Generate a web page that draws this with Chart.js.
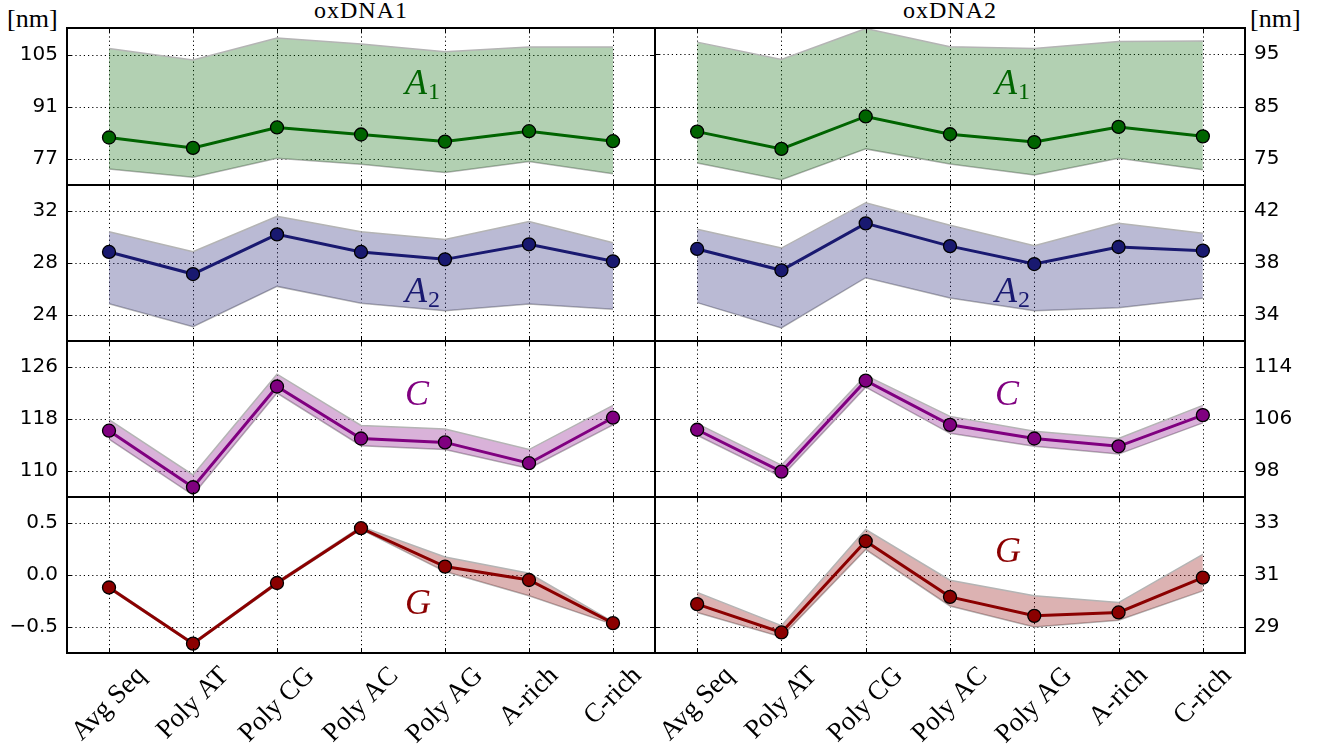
<!DOCTYPE html>
<html>
<head>
<meta charset="utf-8">
<script src="https://cdn.jsdelivr.net/npm/chart.js@4.4.1/dist/chart.umd.min.js"></script>
<style>
  html, body { margin: 0; padding: 0; background: #fff; }
  #fig { position: relative; width: 1325px; height: 753px; overflow: hidden; background: #fff; }
  #fig canvas { position: absolute; }
  .txt { position: absolute; font-family: 'Liberation Serif', serif; color: #000; white-space: nowrap; }
</style>
</head>
<body>
<div id="fig">
  <div class="txt" style="left:7px; top:6px; font-size:26px; line-height:26px;">[nm]</div>
  <div class="txt" style="left:1250px; top:6px; font-size:26px; line-height:26px;">[nm]</div>
  <div class="txt" style="left:261px; top:-2px; width:200px; text-align:center; font-size:24px; line-height:24px; letter-spacing:1px;">oxDNA1</div>
  <div class="txt" style="left:850px; top:-2px; width:200px; text-align:center; font-size:24px; line-height:24px; letter-spacing:1px;">oxDNA2</div>
</div>
<script>
const categories = ['Avg Seq', 'Poly AT', 'Poly CG', 'Poly AC', 'Poly AG', 'A-rich', 'C-rich'];

// oxDNA1
const a1Ox1   = [82.8, 80.0, 85.5, 83.6, 81.7, 84.5, 81.8];
const a1Ox1Hi = [106.8, 103.7, 109.6, 108.0, 105.9, 107.2, 107.2];
const a1Ox1Lo = [74.3, 72.1, 77.2, 75.6, 73.4, 76.3, 73.0];
const a2Ox1   = [28.85, 27.15, 30.2, 28.85, 28.28, 29.44, 28.13];
const a2Ox1Hi = [30.4, 28.87, 31.6, 30.4, 29.8, 31.2, 29.56];
const a2Ox1Lo = [24.87, 23.1, 26.2, 24.9, 24.33, 24.85, 24.44];
const cOx1    = [116.2, 107.5, 123.0, 115.0, 114.4, 111.2, 118.2];
const cOx1Hi  = [117.9, 109.4, 124.9, 117.0, 116.45, 113.3, 120.1];
const cOx1Lo  = [114.9, 106.3, 122.0, 113.9, 113.3, 110.4, 117.1];
const gOx1    = [-0.12, -0.66, -0.077, 0.45, 0.081, -0.048, -0.463];
const gOx1Hi  = [-0.11, -0.65, -0.065, 0.465, 0.174, 0.016, -0.45];
const gOx1Lo  = [-0.13, -0.67, -0.09, 0.44, 0.033, -0.2, -0.475];

// oxDNA2
const a1Ox2   = [80.2, 76.9, 83.1, 79.7, 78.2, 81.1, 79.3];
const a1Ox2Hi = [97.3, 94.0, 99.9, 96.4, 96.1, 97.4, 97.5];
const a1Ox2Lo = [74.2, 71.0, 76.9, 74.0, 71.9, 75.1, 72.9];
const a2Ox2   = [39.08, 37.44, 41.05, 39.3, 37.92, 39.23, 38.95];
const a2Ox2Hi = [40.6, 39.15, 42.64, 40.9, 39.33, 41.05, 40.28];
const a2Ox2Lo = [34.95, 33.0, 36.87, 35.3, 34.33, 34.56, 35.28];
const cOx2    = [104.35, 97.9, 111.9, 105.1, 103.0, 101.8, 106.6];
const cOx2Hi  = [105.3, 98.9, 112.7, 106.4, 104.1, 103.0, 108.1];
const cOx2Lo  = [103.5, 97.1, 110.9, 103.8, 101.8, 100.6, 105.4];
const gOx2    = [29.88, 28.79, 32.3, 30.16, 29.43, 29.56, 30.9];
const gOx2Hi  = [30.33, 29.05, 32.75, 30.8, 30.2, 29.94, 31.79];
const gOx2Lo  = [29.56, 28.62, 31.98, 29.81, 29.0, 29.26, 30.39];

// axis limits and tick labels
const a1Ox1Range = [70, 112.3], a1Ox1Ticks = [77, 91, 105];
const a2Ox1Range = [22, 34],    a2Ox1Ticks = [24, 28, 32];
const cOx1Range  = [106, 130],  cOx1Ticks  = [110, 118, 126];
const gOx1Range  = [-0.75, 0.75], gOx1Ticks = [-0.5, 0.0, 0.5];
const a1Ox2Range = [70, 100],   a1Ox2Ticks = [75, 85, 95];
const a2Ox2Range = [32, 44],    a2Ox2Ticks = [34, 38, 42];
const cOx2Range  = [94, 118],   cOx2Ticks  = [98, 106, 114];
const gOx2Range  = [28, 34],    gOx2Ticks  = [29, 31, 33];

const rowEdges = [28, 185, 341, 497, 653];
const bandEdge = '#b4b4b4';

const colA1 = '#006400', colA2 = '#191970', colC = '#800080', colG = '#8b0000';
const fillOf = (r, g, b) => `rgba(${r},${g},${b},0.3)`;

// grid, frame, inward ticks, symbol label and rotated category labels
const panelDecor = {
  id: 'panelDecor',
  beforeDatasetsDraw(chart) {
    const { ctx, chartArea: a, scales: { x, y } } = chart;
    ctx.save();
    ctx.strokeStyle = '#000';
    ctx.lineWidth = 1;
    ctx.setLineDash([1.2, 3]);
    ctx.beginPath();
    x.ticks.forEach((t, i) => {
      const px = Math.round(x.getPixelForTick(i)) + 0.5;
      ctx.moveTo(px, a.top); ctx.lineTo(px, a.bottom);
    });
    y.ticks.forEach((t, i) => {
      const py = Math.round(y.getPixelForTick(i)) + 0.5;
      ctx.moveTo(a.left, py); ctx.lineTo(a.right, py);
    });
    ctx.stroke();
    ctx.restore();
  },
  afterDatasetsDraw(chart, args, o) {
    const { ctx, chartArea: a, scales: { x, y } } = chart;
    ctx.save();
    ctx.strokeStyle = '#000';
    ctx.lineWidth = 1;
    ctx.beginPath();
    x.ticks.forEach((t, i) => {
      const px = Math.round(x.getPixelForTick(i)) + 0.5;
      ctx.moveTo(px, a.top); ctx.lineTo(px, a.top + 5);
      ctx.moveTo(px, a.bottom); ctx.lineTo(px, a.bottom - 5);
    });
    y.ticks.forEach((t, i) => {
      const py = Math.round(y.getPixelForTick(i)) + 0.5;
      ctx.moveTo(a.left, py); ctx.lineTo(a.left + 5, py);
      ctx.moveTo(a.right, py); ctx.lineTo(a.right - 5, py);
    });
    ctx.stroke();
    ctx.lineWidth = 2;
    ctx.strokeRect(a.left, a.top, a.right - a.left, a.bottom - a.top);

    // symbol such as A_1
    ctx.fillStyle = o.color;
    ctx.textBaseline = 'alphabetic';
    ctx.textAlign = 'left';
    ctx.font = 'italic 36px "Liberation Serif"';
    const lx = a.left + o.pos[0], ly = a.top + o.pos[1];
    ctx.fillText(o.sym, lx, ly);
    if (o.sub) {
      const w = ctx.measureText(o.sym).width;
      ctx.font = '24px "Liberation Serif"';
      ctx.fillText(o.sub, lx + w + 1, ly + 5);
    }

    if (o.xLabels) {
      ctx.fillStyle = '#000';
      ctx.font = '27px "Liberation Serif"';
      ctx.textAlign = 'center';
      ctx.textBaseline = 'middle';
      categories.forEach((lab, i) => {
        const px = x.getPixelForTick(i);
        const w = ctx.measureText(lab).width;
        const ext = (w + 19) * Math.SQRT1_2;
        ctx.save();
        ctx.translate(px, a.bottom + 12 + ext / 2);
        ctx.rotate(-Math.PI / 4);
        ctx.fillText(lab, 0, 0);
        ctx.restore();
      });
    }
    ctx.restore();
  }
};

const fmtTick = (decimals) => (v) => v.toFixed(decimals).replace('-', '\u2212');

const panels = [
  { col: 0, row: 0, mean: a1Ox1, hi: a1Ox1Hi, lo: a1Ox1Lo, range: a1Ox1Range, ticks: a1Ox1Ticks, dec: 0, sym: 'A', sub: '1', color: colA1, fill: fillOf(0, 100, 0), pos: [338, 66] },
  { col: 0, row: 1, mean: a2Ox1, hi: a2Ox1Hi, lo: a2Ox1Lo, range: a2Ox1Range, ticks: a2Ox1Ticks, dec: 0, sym: 'A', sub: '2', color: colA2, fill: fillOf(25, 25, 112), pos: [338, 117] },
  { col: 0, row: 2, mean: cOx1, hi: cOx1Hi, lo: cOx1Lo, range: cOx1Range, ticks: cOx1Ticks, dec: 0, sym: 'C', sub: '', color: colC, fill: fillOf(128, 0, 128), pos: [338, 64] },
  { col: 0, row: 3, mean: gOx1, hi: gOx1Hi, lo: gOx1Lo, range: gOx1Range, ticks: gOx1Ticks, dec: 1, sym: 'G', sub: '', color: colG, fill: fillOf(139, 0, 0), pos: [338, 117] },
  { col: 1, row: 0, mean: a1Ox2, hi: a1Ox2Hi, lo: a1Ox2Lo, range: a1Ox2Range, ticks: a1Ox2Ticks, dec: 0, sym: 'A', sub: '1', color: colA1, fill: fillOf(0, 100, 0), pos: [340, 66] },
  { col: 1, row: 1, mean: a2Ox2, hi: a2Ox2Hi, lo: a2Ox2Lo, range: a2Ox2Range, ticks: a2Ox2Ticks, dec: 0, sym: 'A', sub: '2', color: colA2, fill: fillOf(25, 25, 112), pos: [340, 117] },
  { col: 1, row: 2, mean: cOx2, hi: cOx2Hi, lo: cOx2Lo, range: cOx2Range, ticks: cOx2Ticks, dec: 0, sym: 'C', sub: '', color: colC, fill: fillOf(128, 0, 128), pos: [340, 64] },
  { col: 1, row: 3, mean: gOx2, hi: gOx2Hi, lo: gOx2Lo, range: gOx2Range, ticks: gOx2Ticks, dec: 0, sym: 'G', sub: '', color: colG, fill: fillOf(139, 0, 0), pos: [340, 65] }
];

function makePanel(p) {
  const fig = document.getElementById('fig');
  const left = p.col === 0 ? 0 : 645;
  const width = p.col === 0 ? 665 : 680;
  const padTop = 25;
  const padBottom = p.row === 3 ? 753 - rowEdges[4] : 25;
  const top = rowEdges[p.row] - padTop;
  const height = rowEdges[p.row + 1] - rowEdges[p.row] + padTop + padBottom;

  const cv = document.createElement('canvas');
  cv.width = width; cv.height = height;
  cv.style.left = left + 'px'; cv.style.top = top + 'px';
  cv.style.width = width + 'px'; cv.style.height = height + 'px';
  fig.appendChild(cv);

  new Chart(cv.getContext('2d'), {
    type: 'line',
    data: {
      labels: categories,
      datasets: [
        {
          data: p.mean,
          borderColor: p.color,
          borderWidth: 3,
          pointRadius: 6.5,
          pointBackgroundColor: p.color,
          pointBorderColor: '#000',
          pointBorderWidth: 1.3,
          fill: false,
          tension: 0
        },
        {
          data: p.hi,
          borderColor: bandEdge,
          borderWidth: 1.5,
          pointRadius: 0,
          backgroundColor: p.fill,
          fill: '+1',
          tension: 0
        },
        {
          data: p.lo,
          borderColor: bandEdge,
          borderWidth: 1.5,
          pointRadius: 0,
          fill: false,
          tension: 0
        }
      ]
    },
    options: {
      responsive: false,
      animation: false,
      events: [],
      layout: {
        padding: { top: padTop, bottom: padBottom, left: p.col ? 10 : 0, right: p.col ? 0 : 10 }
      },
      plugins: {
        legend: { display: false },
        tooltip: { enabled: false },
        panelDecor: { sym: p.sym, sub: p.sub, color: p.color, pos: p.pos, xLabels: p.row === 3 }
      },
      scales: {
        x: { type: 'category', display: false, offset: true },
        y: {
          position: p.col ? 'right' : 'left',
          min: p.range[0],
          max: p.range[1],
          afterBuildTicks: (s) => { s.ticks = p.ticks.map(v => ({ value: v })); },
          afterFit: (s) => { s.width = p.col ? 80 : 67; },
          grid: { display: false, drawTicks: false },
          border: { display: false },
          ticks: {
            color: '#000',
            padding: 9,
            font: { family: 'DejaVu Sans', size: 20 },
            callback: fmtTick(p.dec)
          }
        }
      }
    },
    plugins: [panelDecor]
  });
}

panels.forEach(makePanel);
</script>
</body>
</html>
